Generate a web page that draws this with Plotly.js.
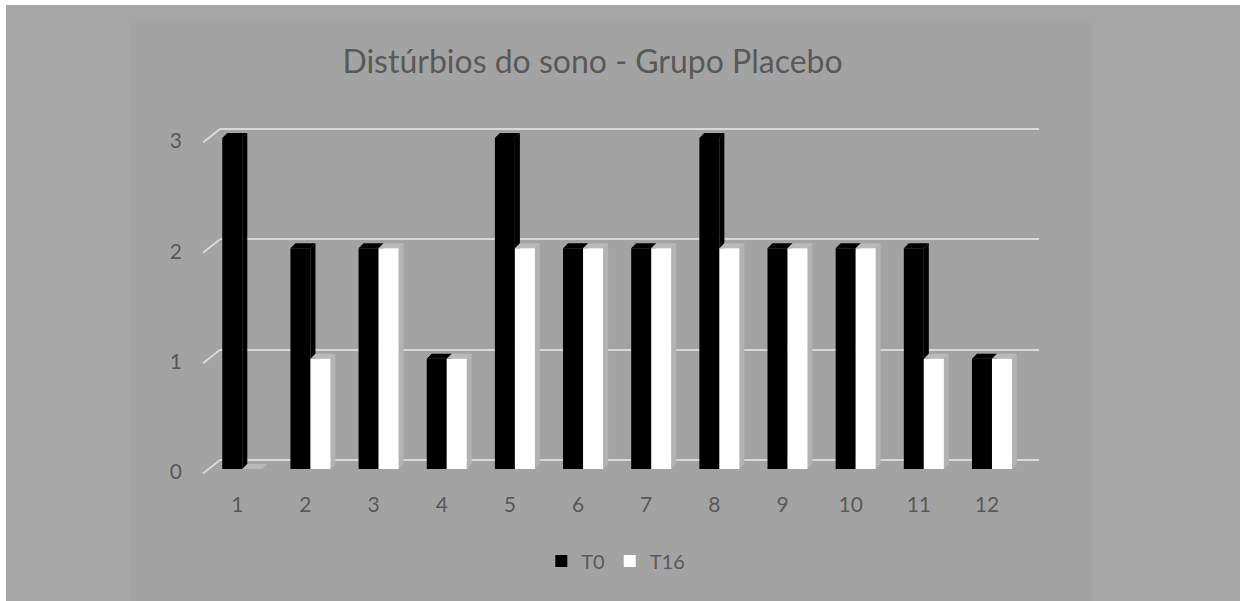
<!DOCTYPE html>
<html>
<head>
<meta charset="utf-8">
<script src="https://cdn.plot.ly/plotly-3.0.1.min.js"></script>
<style>
  html, body { margin: 0; padding: 0; background: #ffffff; width: 1240px; height: 601px; overflow: hidden; }
  #frame { position: absolute; left: 6px; top: 5px; width: 1234px; height: 596px; background: #a6a6a6; }
  #chart { position: absolute; left: 130px; top: 23px; width: 962px; height: 578px; }
</style>
</head>
<body>
<div id="frame"></div>
<div id="chart"></div>
<script>
// Patients (x axis) and sleep-disturbance scores at week 0 and week 16
const categories = [1, 2, 3, 4, 5, 6, 7, 8, 9, 10, 11, 12];
const categoryLabels = ['1', '2', '3', '4', '5', '6', '7', '8', '9', '10', '11', '12'];
const t0Values  = [3, 2, 2, 1, 3, 2, 2, 3, 2, 2, 2, 1];
const t16Values = [0, 1, 2, 1, 2, 2, 2, 2, 2, 2, 1, 1];
const seriesNames = ['T0', 'T16'];
const yTicks = [0, 1, 2, 3];

// Plot geometry
const W = 962, H = 578;
const margin = { l: 90, r: 53, t: 77, b: 123 };
const plotW = W - margin.l - margin.r;
const plotH = H - margin.t - margin.b;
const xRange = [0.673, 12.69];
const yRange = [-0.0816, 3.3444];   // front faces of the bars
const y2Range = [-0.1631, 3.2629];  // back wall gridlines
const bargap = 0.413;

// pseudo-3D depth of the bars, in pixels, converted to axis units
const pxPerX = plotW / (xRange[1] - xRange[0]);
const pxPerY = plotH / (yRange[1] - yRange[0]);
const depthX = 5 / pxPerX;
const depthY = 5 / pxPerY;

const textColor = '#595959';
const font = 'Lato, "Open Sans", sans-serif';

const faceColors = [
  { top: '#000000', side: '#000000' },
  { top: '#b9b9b9', side: '#b3b3b3' }
];

const shapes = [];

// diagonal floor/wall stubs at the left end of each gridline
yTicks.forEach(v => {
  shapes.push({
    type: 'line', layer: 'between',
    xref: 'paper', yref: 'y2',
    x0: -17 / plotW, x1: 0,
    y0: v - 13.5 / pxPerY, y1: v,
    line: { color: '#d9d9d9', width: 2 }
  });
});

// top and side faces for every bar
const barW = (1 - bargap) / 2;
[t0Values, t16Values].forEach((vals, k) => {
  vals.forEach((v, i) => {
    const xc = categories[i];
    const xl = xc - barW + k * barW;
    const xr = xl + barW;
    // right side face
    shapes.push({
      type: 'path', layer: 'between', xref: 'x', yref: 'y',
      path: `M${xr},0 L${xr + depthX},${depthY} L${xr + depthX},${v + depthY} L${xr},${v} Z`,
      fillcolor: faceColors[k].side, line: { width: 0 }
    });
    // top face
    shapes.push({
      type: 'path', layer: 'between', xref: 'x', yref: 'y',
      path: `M${xl},${v} L${xl + depthX},${v + depthY} L${xr + depthX},${v + depthY} L${xr},${v} Z`,
      fillcolor: faceColors[k].top, line: { width: 0 }
    });
  });
});

const traces = [
  {
    type: 'bar', name: seriesNames[0], x: categories, y: t0Values,
    marker: { color: '#000000', line: { width: 0 } }, hoverinfo: 'skip'
  },
  {
    type: 'bar', name: seriesNames[1], x: categories, y: t16Values,
    marker: { color: '#ffffff', line: { width: 0 } }, hoverinfo: 'skip'
  }
];

const layout = {
  width: W, height: H,
  margin: margin,
  paper_bgcolor: '#a3a3a3',
  plot_bgcolor: 'rgba(0,0,0,0)',
  font: { family: font, color: textColor },
  barmode: 'group', bargap: bargap, bargroupgap: 0,
  title: {
    text: 'Distúrbios do sono - Grupo Placebo',
    font: { family: font, size: 32, color: textColor },
    xref: 'container', x: 0.4808, xanchor: 'center',
    yref: 'container', y: 0.933, yanchor: 'middle'
  },
  xaxis: {
    type: 'linear', range: xRange,
    tickvals: categories, ticktext: categoryLabels,
    showgrid: false, zeroline: false, showline: false, ticks: '',
    ticklabelshift: -5, ticklabelstandoff: 12,
    tickfont: { family: font, size: 21, color: textColor }
  },
  yaxis: {
    range: yRange, tickvals: yTicks,
    showgrid: false, zeroline: false, showline: false, ticks: '',
    ticklabelshift: 3, ticklabelstandoff: 37,
    tickfont: { family: font, size: 21, color: textColor }
  },
  yaxis2: {
    overlaying: 'y', side: 'left', range: y2Range, tickvals: yTicks,
    showgrid: true, gridcolor: '#d9d9d9', gridwidth: 2,
    zeroline: false, showline: false, ticks: '', showticklabels: false
  },
  showlegend: true,
  legend: {
    orientation: 'h',
    xref: 'container', x: 0.505, xanchor: 'center',
    yref: 'container', y: 0.069, yanchor: 'middle',
    font: { family: font, size: 20, color: textColor },
    bgcolor: 'rgba(0,0,0,0)'
  },
  shapes: shapes
};

Plotly.newPlot('chart', traces, layout, { displayModeBar: false, staticPlot: true });
</script>
</body>
</html>
